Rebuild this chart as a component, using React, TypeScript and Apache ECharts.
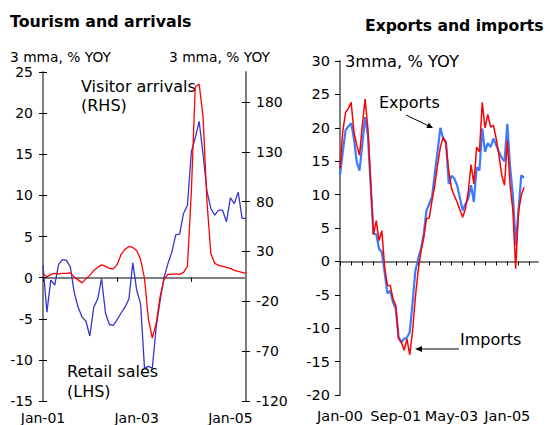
import React, { useEffect, useRef } from "react";
import * as echarts from "echarts";

const MONTHS = ["Jan", "Feb", "Mar", "Apr", "May", "Jun", "Jul", "Aug", "Sep", "Oct", "Nov", "Dec"];
function monthLabels(startYear: number, count: number): string[] {
  const out: string[] = [];
  for (let k = 0; k < count; k++) {
    const y = startYear + Math.floor(k / 12);
    out.push(MONTHS[k % 12] + "-" + String(y % 100).padStart(2, "0"));
  }
  return out;
}

// Left chart: Jan-01 .. May-05
const tourismCategories = monthLabels(2001, 53);
const retailSales = [
  1.5, -4.2, -0.3, -0.9, 1.6, 2.2, 2.1, 1.3, -1.8, -3.6, -4.8, -5.3, -7.1, -3.6, -2.6, -0.1,
  -4.3, -5.7, -5.8, -5.1, -4.3, -3.6, -2.6, 1.8, -1.5, -3.2, -11.0, -10.8, -11.0, -6.0, -2.8,
  0.0, 1.7, 3.1, 5.2, 5.3, 7.8, 8.8, 15.3, 17.0, 19.0, 15.0, 10.5, 8.4, 7.6, 8.2, 8.2, 6.8,
  9.7, 9.0, 10.4, 7.2, 7.2,
];
const visitorArrivals = [
  8, 4.5, 7, 8, 7.5, 8, 8, 8.5, 4.5, 1.5, -1.5, 2.5, 6, 11, 14, 16.5, 15, 13, 12.5, 17, 27,
  32, 35, 34, 31, 22, 3, -38, -57, -42, -15, 2, 7, 7, 7.5, 7, 9, 15, 90, 195, 198, 165, 80,
  28, 18, 16, 15, 14, 13, 11, 10, 9, 8,
];
const rhsTicks = [-120, -70, -20, 30, 80, 130, 180];

// Right chart: Jan-00 .. Dec-05
const tradeCategories = monthLabels(2000, 72);
const exportsYoy = [
  12.9, 16.4, 19.6, 20.2, 20.7, 18.4, 14.9, 13.6, 17.5, 21.6, 18.9, 11.4, 4.1, 4.1, 1.9, 1.4,
  -1.6, -4.8, -4.4, -6.1, -7.1, -11.3, -12.1, -11.6, -11.4, -10.6, -6.3, -1.5, 0.4, 1.8, 4.0,
  7.6, 8.6, 9.6, 13.2, 16.5, 20.0, 18.4, 17.9, 11.6, 12.8, 12.4, 11.4, 9.5, 7.6, 8.6, 9.4,
  11.4, 8.9, 14.1, 13.6, 19.9, 16.4, 17.7, 17.1, 18.4, 17.4, 16.4, 15.5, 15.0, 20.6, 14.1,
  9.9, 2.4, 7.6, 12.9, 12.5,
];
const importsYoy = [
  13.9, 19.5, 22.3, 22.9, 23.8, 19.4, 17.4, 15.9, 20.4, 24.3, 19.9, 11.9, 4.0, 6.1, 3.1, 4.6,
  -0.8, -3.6, -3.6, -5.6, -6.6, -11.6, -12.1, -13.3, -11.6, -14.0, -10.5, -5.5, -1.5, 1.4,
  3.5, 6.4, 6.5, 9.1, 11.4, 14.5, 17.1, 18.6, 17.6, 13.5, 10.9, 9.8, 8.9, 7.7, 6.6, 7.9,
  10.5, 14.5, 11.6, 17.1, 16.4, 23.8, 20.0, 22.0, 20.1, 20.4, 18.4, 15.9, 12.9, 11.4, 18.1,
  11.4, 7.6, -1.1, 7.4, 9.9, 11.1,
];

const FONT = "DejaVu Sans, Verdana, sans-serif";
const AXIS_GRAY = "#7f7f7f";

function txt(x: number, y: number, text: string, size: number, bold = false) {
  return {
    type: "text", x, y,
    style: { text, fill: "#000", font: `${bold ? "bold " : ""}${size}px ${FONT}`, align: "left", verticalAlign: "middle" },
  };
}

export default function App() {
  const ref = useRef<HTMLDivElement>(null);
  useEffect(() => {
    if (!ref.current) return;
    const chart = echarts.init(ref.current, undefined, { renderer: "svg" });
    const leftLabel = { color: "#000", fontSize: 14, fontFamily: FONT };
    const rightLabel = { color: "#000", fontSize: 14.5, fontFamily: FONT };
    const option: any = {
      animation: false,
      backgroundColor: "#fff",
      grid: [
        { left: 43, top: 72, width: 203, height: 329, containLabel: false, outerBoundsMode: "none" },
        { left: 340, top: 61, width: 198, height: 334, containLabel: false, outerBoundsMode: "none" },
      ],
      xAxis: [
        {
          gridIndex: 0, type: "category", data: tourismCategories, boundaryGap: false,
          axisLine: { show: true, onZero: true, onZeroAxisIndex: 0, lineStyle: { color: AXIS_GRAY, width: 2 } },
          axisTick: { show: true, interval: 18, length: 4, lineStyle: { color: "#000", width: 1 } },
          axisLabel: { show: false }, splitLine: { show: false },
        },
        {
          gridIndex: 0, type: "category", data: tourismCategories, boundaryGap: false,
          axisLine: { show: false, onZero: true, onZeroAxisIndex: 0 },
          axisTick: { show: true, inside: true, interval: 18, length: 4, lineStyle: { color: "#000", width: 1 } },
          axisLabel: { show: false }, splitLine: { show: false },
        },
        {
          gridIndex: 0, type: "category", data: tourismCategories, boundaryGap: false, position: "bottom",
          axisLine: { show: false, onZero: false }, axisTick: { show: false },
          axisLabel: { ...leftLabel, interval: 23, margin: 9.5 }, splitLine: { show: false },
        },
        {
          gridIndex: 1, type: "category", data: tradeCategories, boundaryGap: false,
          axisLine: { show: true, onZero: true, onZeroAxisIndex: 3, lineStyle: { color: AXIS_GRAY, width: 2 } },
          axisTick: { show: true, interval: 3, length: 4, lineStyle: { color: "#000", width: 1 } },
          axisLabel: { show: false }, splitLine: { show: false },
        },
        {
          gridIndex: 1, type: "category", data: tradeCategories, boundaryGap: false, position: "bottom",
          axisLine: { show: false, onZero: false }, axisTick: { show: false },
          axisLabel: { ...rightLabel, interval: 19, margin: 13 }, splitLine: { show: false },
        },
      ],
      yAxis: [
        {
          gridIndex: 0, type: "value", position: "left", min: -15, max: 25, interval: 5,
          axisLine: { show: true, lineStyle: { color: AXIS_GRAY, width: 2 } },
          axisTick: { show: true, length: 4, lineStyle: { color: "#000" } },
          axisLabel: { ...leftLabel, margin: 10 }, splitLine: { show: false },
        },
        {
          gridIndex: 0, type: "value", position: "right", min: -120, max: 210,
          axisLine: { show: true, lineStyle: { color: AXIS_GRAY, width: 2 } },
          axisTick: { show: true, length: 4, lineStyle: { color: "#000" }, customValues: rhsTicks },
          axisLabel: { ...leftLabel, margin: 10, customValues: rhsTicks }, splitLine: { show: false },
        },
        {
          gridIndex: 0, type: "value", position: "left", min: -15, max: 25, interval: 5,
          axisLine: { show: false },
          axisTick: { show: true, inside: true, length: 4, lineStyle: { color: "#000" } },
          axisLabel: { show: false }, splitLine: { show: false },
        },
        {
          gridIndex: 1, type: "value", position: "left", min: -20, max: 30, interval: 5,
          axisLine: { show: true, lineStyle: { color: AXIS_GRAY, width: 2 } },
          axisTick: { show: true, length: 5, lineStyle: { color: "#000" } },
          axisLabel: { ...rightLabel, margin: 10 }, splitLine: { show: false },
        },
        {
          gridIndex: 0, type: "value", position: "right", min: -120, max: 210,
          axisLine: { show: false },
          axisTick: { show: true, inside: true, length: 4, lineStyle: { color: "#000" }, customValues: rhsTicks },
          axisLabel: { show: false }, splitLine: { show: false },
        },
      ],
      series: [
        {
          name: "Retail sales", type: "line", xAxisIndex: 0, yAxisIndex: 0, data: retailSales,
          showSymbol: false, lineStyle: { color: "#3535d0", width: 1.3 }, itemStyle: { color: "#3535d0" },
        },
        {
          name: "Visitor arrivals", type: "line", xAxisIndex: 0, yAxisIndex: 1, data: visitorArrivals,
          showSymbol: false, lineStyle: { color: "#ff0000", width: 1.3 }, itemStyle: { color: "#ff0000" },
        },
        {
          name: "Exports", type: "line", xAxisIndex: 3, yAxisIndex: 3, data: exportsYoy,
          showSymbol: false, lineStyle: { color: "#3a7bff", width: 2.2 }, itemStyle: { color: "#3a7bff" },
        },
        {
          name: "Imports", type: "line", xAxisIndex: 3, yAxisIndex: 3, data: importsYoy,
          showSymbol: false, lineStyle: { color: "#ff0000", width: 1.5 }, itemStyle: { color: "#ff0000" },
        },
      ],
      graphic: [
        txt(10, 21.5, "Tourism and arrivals", 15.8, true),
        txt(10, 57, "3 mma, % YOY", 13.8),
        txt(169, 57, "3 mma, % YOY", 13.8),
        txt(81, 86.5, "Visitor arrivals", 16),
        txt(81, 105, "(RHS)", 16),
        txt(67, 371.5, "Retail sales", 16),
        txt(67, 391, "(LHS)", 16),
        txt(365, 25.5, "Exports and imports", 15.6, true),
        txt(345, 61, "3mma, % YOY", 16.3),
        txt(379, 102, "Exports", 16),
        txt(460, 339.5, "Imports", 16),
        { type: "line", shape: { x1: 406, y1: 115, x2: 428, y2: 125.6 }, style: { stroke: "#000", lineWidth: 1 } },
        { type: "polygon", shape: { points: [[433, 128], [426.3, 128.1], [428.9, 122.7]] }, style: { fill: "#000" } },
        { type: "line", shape: { x1: 459, y1: 349, x2: 421, y2: 349 }, style: { stroke: "#000", lineWidth: 1 } },
        { type: "polygon", shape: { points: [[415, 349], [422, 346], [422, 352]] }, style: { fill: "#000" } },
      ],
    };
    chart.setOption(option);
    return () => chart.dispose();
  }, []);
  return <div ref={ref} style={{ position: "fixed", left: 0, top: 0, width: 550, height: 425 }} />;
}
